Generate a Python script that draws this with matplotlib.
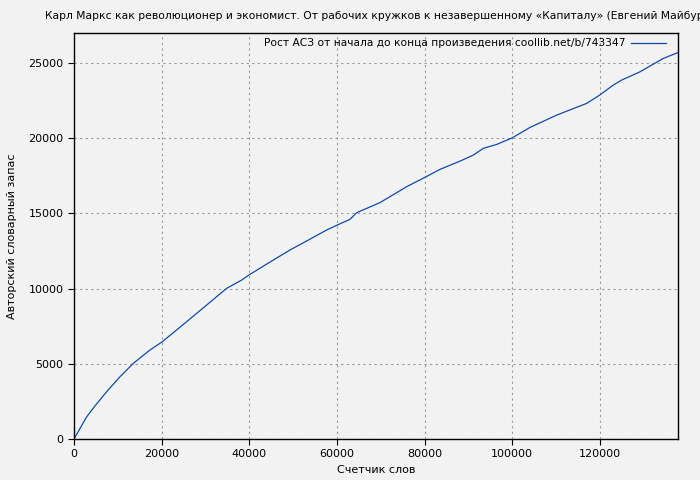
import matplotlib
matplotlib.use("Agg")
import matplotlib.pyplot as plt

# данные
words = [0, 2900, 4950, 7460, 10500, 13530, 17340, 20150, 25700, 30270,
         34830, 38250, 40150, 45470, 49280, 53460, 57650, 60070, 62970, 64500,
         69810, 75900, 79920, 83500, 88070, 91100, 93390, 96430, 100000, 104040,
         110120, 116970, 119930, 123040, 124950, 129130, 134450, 137800]
vocab = [0, 1480, 2260, 3150, 4140, 5030, 5920, 6470, 7800, 8910,
         10020, 10570, 10950, 11900, 12570, 13230, 13900, 14230, 14610, 15050,
         15720, 16780, 17380, 17930, 18480, 18880, 19330, 19590, 20030, 20720,
         21540, 22320, 22870, 23540, 23870, 24420, 25310, 25700]

x_ticks = [0, 20000, 40000, 60000, 80000, 100000, 120000]
y_ticks = [0, 5000, 10000, 15000, 20000, 25000]

title = ("Карл Маркс как революционер и экономист. От рабочих кружков "
         "к незавершенному «Капиталу» (Евгений Майбурд)")
legend_label = "Рост АСЗ от начала до конца произведения coollib.net/b/743347"

bg = "#f2f2f2"
fig = plt.figure(figsize=(7, 4.8), dpi=100, facecolor=bg)
ax = fig.add_axes([74 / 700, 41 / 480, 604 / 700, 406 / 480], facecolor=bg)

ax.plot(words, vocab, color="#104aa8", lw=0.9, label=legend_label)

ax.set_xlim(0, 137800)
ax.set_ylim(0, 27000)
ax.set_xticks(x_ticks)
ax.set_yticks(y_ticks)
ax.tick_params(labelsize=8, length=4, width=0.8, direction="out")
ax.grid(True, color="#999999", linestyle=(0, (2, 3)), linewidth=0.8)
for s in ax.spines.values():
    s.set_linewidth(1)

ax.set_xlabel("Счетчик слов", fontsize=8, labelpad=4)
ax.set_ylabel("Авторский словарный запас", fontsize=8, labelpad=8)

# заголовок в оригинале обрезан правым краем
fig.text(45 / 700, 1 - 16 / 480, title, fontsize=7.75, ha="left", va="center")

ax.legend(loc="upper right", bbox_to_anchor=(1 - 7 / 604, 1.0),
          frameon=False, markerfirst=False, fontsize=7.7,
          handlelength=3.2, handletextpad=0.6, borderaxespad=0.1)

fig.savefig("out.png", dpi=100, facecolor=bg)
